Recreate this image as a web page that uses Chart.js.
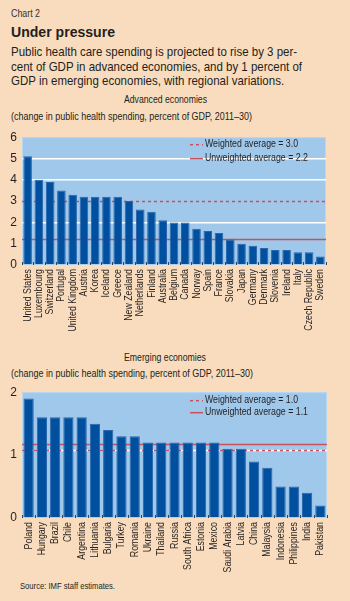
<!DOCTYPE html>
<html>
<head>
<meta charset="utf-8">
<script src="https://cdn.jsdelivr.net/npm/chart.js@4/dist/chart.umd.min.js"></script>
<style>
body { margin: 0; width: 350px; height: 601px; background: #f9dcbd; position: relative; overflow: hidden;
       font-family: "Liberation Sans", Arial, sans-serif; color: #231f20; }
.t { position: absolute; white-space: nowrap; transform-origin: 0 0; }
#kicker { left: 11px; top: 6px; font-size: 10.5px; line-height: 14px; color: #333; }
#title { left: 11px; top: 23px; font-size: 15px; line-height: 18px; font-weight: bold; }
#sub { left: 11px; top: 45px; font-size: 13px; line-height: 14.7px; }
.head { font-size: 11px; line-height: 13px; }
.box { position: absolute; left: 0; width: 350px; }
#src { left: 20px; top: 580px; font-size: 9.5px; line-height: 12px; }
</style>
</head>
<body>
<div class="t" id="kicker" data-w="29">Chart 2</div>
<div class="t" id="title" data-w="104">Under pressure</div>
<div class="t" id="sub" data-w="291">Public health care spending is projected to rise by 3 per-<br>cent of GDP in advanced economies, and by 1 percent of<br>GDP in emerging economies, with regional variations.</div>
<div class="t head" style="left:124px;top:93px" data-w="83">Advanced economies</div>
<div class="t head" style="left:11px;top:110px" data-w="241">(change in public health spending, percent of GDP, 2011–30)</div>
<div class="box" style="top:125px;height:215px"><canvas id="advChart"></canvas></div>
<div class="t head" style="left:124px;top:351px" data-w="82">Emerging economies</div>
<div class="t head" style="left:11px;top:367px" data-w="242">(change in public health spending, percent of GDP, 2011–30)</div>
<div class="box" style="top:380px;height:200px"><canvas id="emChart"></canvas></div>
<div class="t" id="src" data-w="95">Source: IMF staff estimates.</div>

<script>
// DONNÉES
const advLabels = ['United States', 'Luxembourg', 'Switzerland', 'Portugal', 'United Kingdom', 'Austria', 'Korea',
    'Iceland', 'Greece', 'New Zealand', 'Netherlands', 'Finland', 'Australia', 'Belgium', 'Canada', 'Norway',
    'Spain', 'France', 'Slovakia', 'Japan', 'Germany', 'Denmark', 'Slovenia', 'Ireland', 'Italy',
    'Czech Republic', 'Sweden'];
const advValues = [5.1, 4.0, 3.9, 3.5, 3.3, 3.2, 3.2, 3.2, 3.2, 3.0, 2.6, 2.5, 2.1, 2.0, 2.0, 1.7,
    1.6, 1.5, 1.2, 1.0, 0.9, 0.8, 0.7, 0.7, 0.6, 0.6, 0.4];
const advWeighted = 3.0;     // ligne pointillée
const advUnweighted = 1.2;   // ligne pleine (position)
const advLegend = ['Weighted average = 3.0', 'Unweighted average = 2.2'];
const advTicks = [0, 1, 2, 3, 4, 5, 6];

const emLabels = ['Poland', 'Hungary', 'Brazil', 'Chile', 'Argentina', 'Lithuania', 'Bulgaria', 'Turkey',
    'Romania', 'Ukraine', 'Thailand', 'Russia', 'South Africa', 'Estonia', 'Mexico', 'Saudi Arabia', 'Latvia',
    'China', 'Malaysia', 'Indonesia', 'Philippines', 'India', 'Pakistan'];
const emValues = [1.9, 1.6, 1.6, 1.6, 1.6, 1.5, 1.4, 1.3, 1.3, 1.2, 1.2, 1.2, 1.2, 1.2, 1.2, 1.1, 1.1,
    0.9, 0.8, 0.5, 0.5, 0.4, 0.2];
const emWeighted = 1.08;
const emUnweighted = 1.18;
const emLegend = ['Weighted average = 1.0', 'Unweighted average = 1.1'];
const emTicks = [0, 1, 2];

const RED = '#c9505c';
const FONT = '"Liberation Sans", Arial, sans-serif';
const NARROW = 0.8; // police "condensée" simulée

// texte HTML resserré à la largeur voulue
document.querySelectorAll('.t[data-w]').forEach(el => {
    const w = el.getBoundingClientRect().width;
    el.style.transform = `scaleX(${parseFloat(el.dataset.w) / w})`;
});

// PLUGIN : fond, lignes de moyenne, graduations, étiquettes, légende
const decor = {
    id: 'decor',
    beforeDraw(chart) {
        const { ctx, chartArea: a } = chart;
        ctx.save();
        ctx.fillStyle = '#9fc8eb';
        ctx.fillRect(a.left, a.top, a.width, a.height);
        ctx.strokeStyle = '#b9d8f2';
        ctx.lineWidth = 1;
        ctx.strokeRect(a.left + 0.5, a.top + 0.5, a.width - 1, a.height - 1);
        ctx.restore();
    },
    beforeDatasetsDraw(chart, args, opts) {
        const { ctx, chartArea: a, scales: { y } } = chart;
        ctx.save();
        const yw = Math.round(y.getPixelForValue(opts.weighted)) + 0.5;
        if (opts.whiteUnder) {
            ctx.strokeStyle = '#ffffff';
            ctx.lineWidth = 1.5;
            ctx.beginPath(); ctx.moveTo(a.left, yw); ctx.lineTo(a.right, yw); ctx.stroke();
        }
        ctx.strokeStyle = RED;
        ctx.lineWidth = 1.5;
        ctx.setLineDash([3, 3]);
        ctx.beginPath(); ctx.moveTo(a.left, yw); ctx.lineTo(a.right, yw); ctx.stroke();
        ctx.setLineDash([]);
        const yu = Math.round(y.getPixelForValue(opts.unweighted)) + 0.5;
        ctx.beginPath(); ctx.moveTo(a.left, yu); ctx.lineTo(a.right, yu); ctx.stroke();
        ctx.restore();
    },
    afterDatasetsDraw(chart) {
        const { ctx, chartArea: a, scales: { x } } = chart;
        ctx.save();
        ctx.strokeStyle = '#3b4350';
        ctx.lineWidth = 1;
        const n = chart.data.labels.length;
        for (let i = 0; i <= n; i++) {
            const px = Math.round(x.getPixelForValue(i - 0.5)) + 0.5;
            ctx.beginPath(); ctx.moveTo(px, a.bottom); ctx.lineTo(px, a.bottom - 3); ctx.stroke();
        }
        // étiquettes des pays, verticales
        ctx.font = '11px ' + FONT;
        ctx.fillStyle = '#231f20';
        ctx.textAlign = 'right';
        ctx.textBaseline = 'middle';
        chart.data.labels.forEach((lab, i) => {
            ctx.save();
            ctx.translate(x.getPixelForTick(i), a.bottom + 4);
            ctx.rotate(-Math.PI / 2);
            ctx.scale(NARROW, 1);
            ctx.fillText(lab, 0, 0);
            ctx.restore();
        });
        ctx.restore();
    },
    afterDraw(chart, args, opts) {
        const { ctx, chartArea: a } = chart;
        ctx.save();
        const rows = [a.top + opts.legendY[0], a.top + opts.legendY[1]];
        ctx.strokeStyle = RED;
        ctx.lineWidth = 1.5;
        ctx.setLineDash([3, 3]);
        ctx.beginPath(); ctx.moveTo(190, rows[0] + 0.5); ctx.lineTo(203, rows[0] + 0.5); ctx.stroke();
        ctx.setLineDash([]);
        ctx.beginPath(); ctx.moveTo(190, rows[1] + 0.5); ctx.lineTo(203, rows[1] + 0.5); ctx.stroke();
        ctx.font = '11.5px ' + FONT;
        ctx.fillStyle = '#231f20';
        ctx.textBaseline = 'middle';
        const widths = [93, 103];
        rows.forEach((ry, k) => {
            ctx.save();
            ctx.translate(205, ry);
            ctx.scale(widths[k] / ctx.measureText(opts.legend[k]).width, 1);
            ctx.fillText(opts.legend[k], 0, 0);
            ctx.restore();
        });
        ctx.restore();
    }
};

function makeChart(id, labels, values, ticks, cfg) {
    return new Chart(document.getElementById(id), {
        type: 'bar',
        data: {
            labels: labels,
            datasets: [{
                data: values,
                backgroundColor: '#00509f',
                borderColor: '#2a66ac',
                borderWidth: 1,
                barPercentage: cfg.barPct,
                categoryPercentage: 1
            }]
        },
        plugins: [decor],
        options: {
            responsive: true,
            maintainAspectRatio: false,
            animation: false,
            layout: { padding: { top: cfg.padTop, right: cfg.padRight, left: 0, bottom: 0 } },
            plugins: {
                legend: { display: false },
                tooltip: { enabled: false },
                decor: {
                    weighted: cfg.weighted,
                    unweighted: cfg.unweighted,
                    whiteUnder: cfg.whiteUnder,
                    legend: cfg.legend,
                    legendY: cfg.legendY
                }
            },
            scales: {
                x: {
                    grid: { display: false },
                    border: { display: false },
                    ticks: { display: false },
                    afterFit: s => { s.height = cfg.xHeight; }
                },
                y: {
                    min: 0,
                    max: ticks[ticks.length - 1],
                    afterFit: s => { s.width = 22; },
                    afterBuildTicks: s => { s.ticks = ticks.map(v => ({ value: v })); },
                    border: { display: false },
                    grid: {
                        drawTicks: false,
                        lineWidth: 1.5,
                        color: c => cfg.gridAt.includes(c.tick.value) ? '#ffffff' : 'rgba(0,0,0,0)'
                    },
                    ticks: {
                        padding: 5,
                        color: '#231f20',
                        font: { family: FONT, size: 12 }
                    }
                }
            }
        }
    });
}

makeChart('advChart', advLabels, advValues, advTicks, {
    barPct: 0.76, padTop: 5, padRight: 24, xHeight: 75,
    weighted: advWeighted, unweighted: advUnweighted, whiteUnder: false,
    legend: advLegend, legendY: [7, 21], gridAt: [2, 4, 5]
});

makeChart('emChart', emLabels, emValues, emTicks, {
    barPct: 0.77, padTop: 6, padRight: 23, xHeight: 62,
    weighted: emWeighted, unweighted: emUnweighted, whiteUnder: true,
    legend: emLegend, legendY: [8, 20], gridAt: []
});
</script>
</body>
</html>
